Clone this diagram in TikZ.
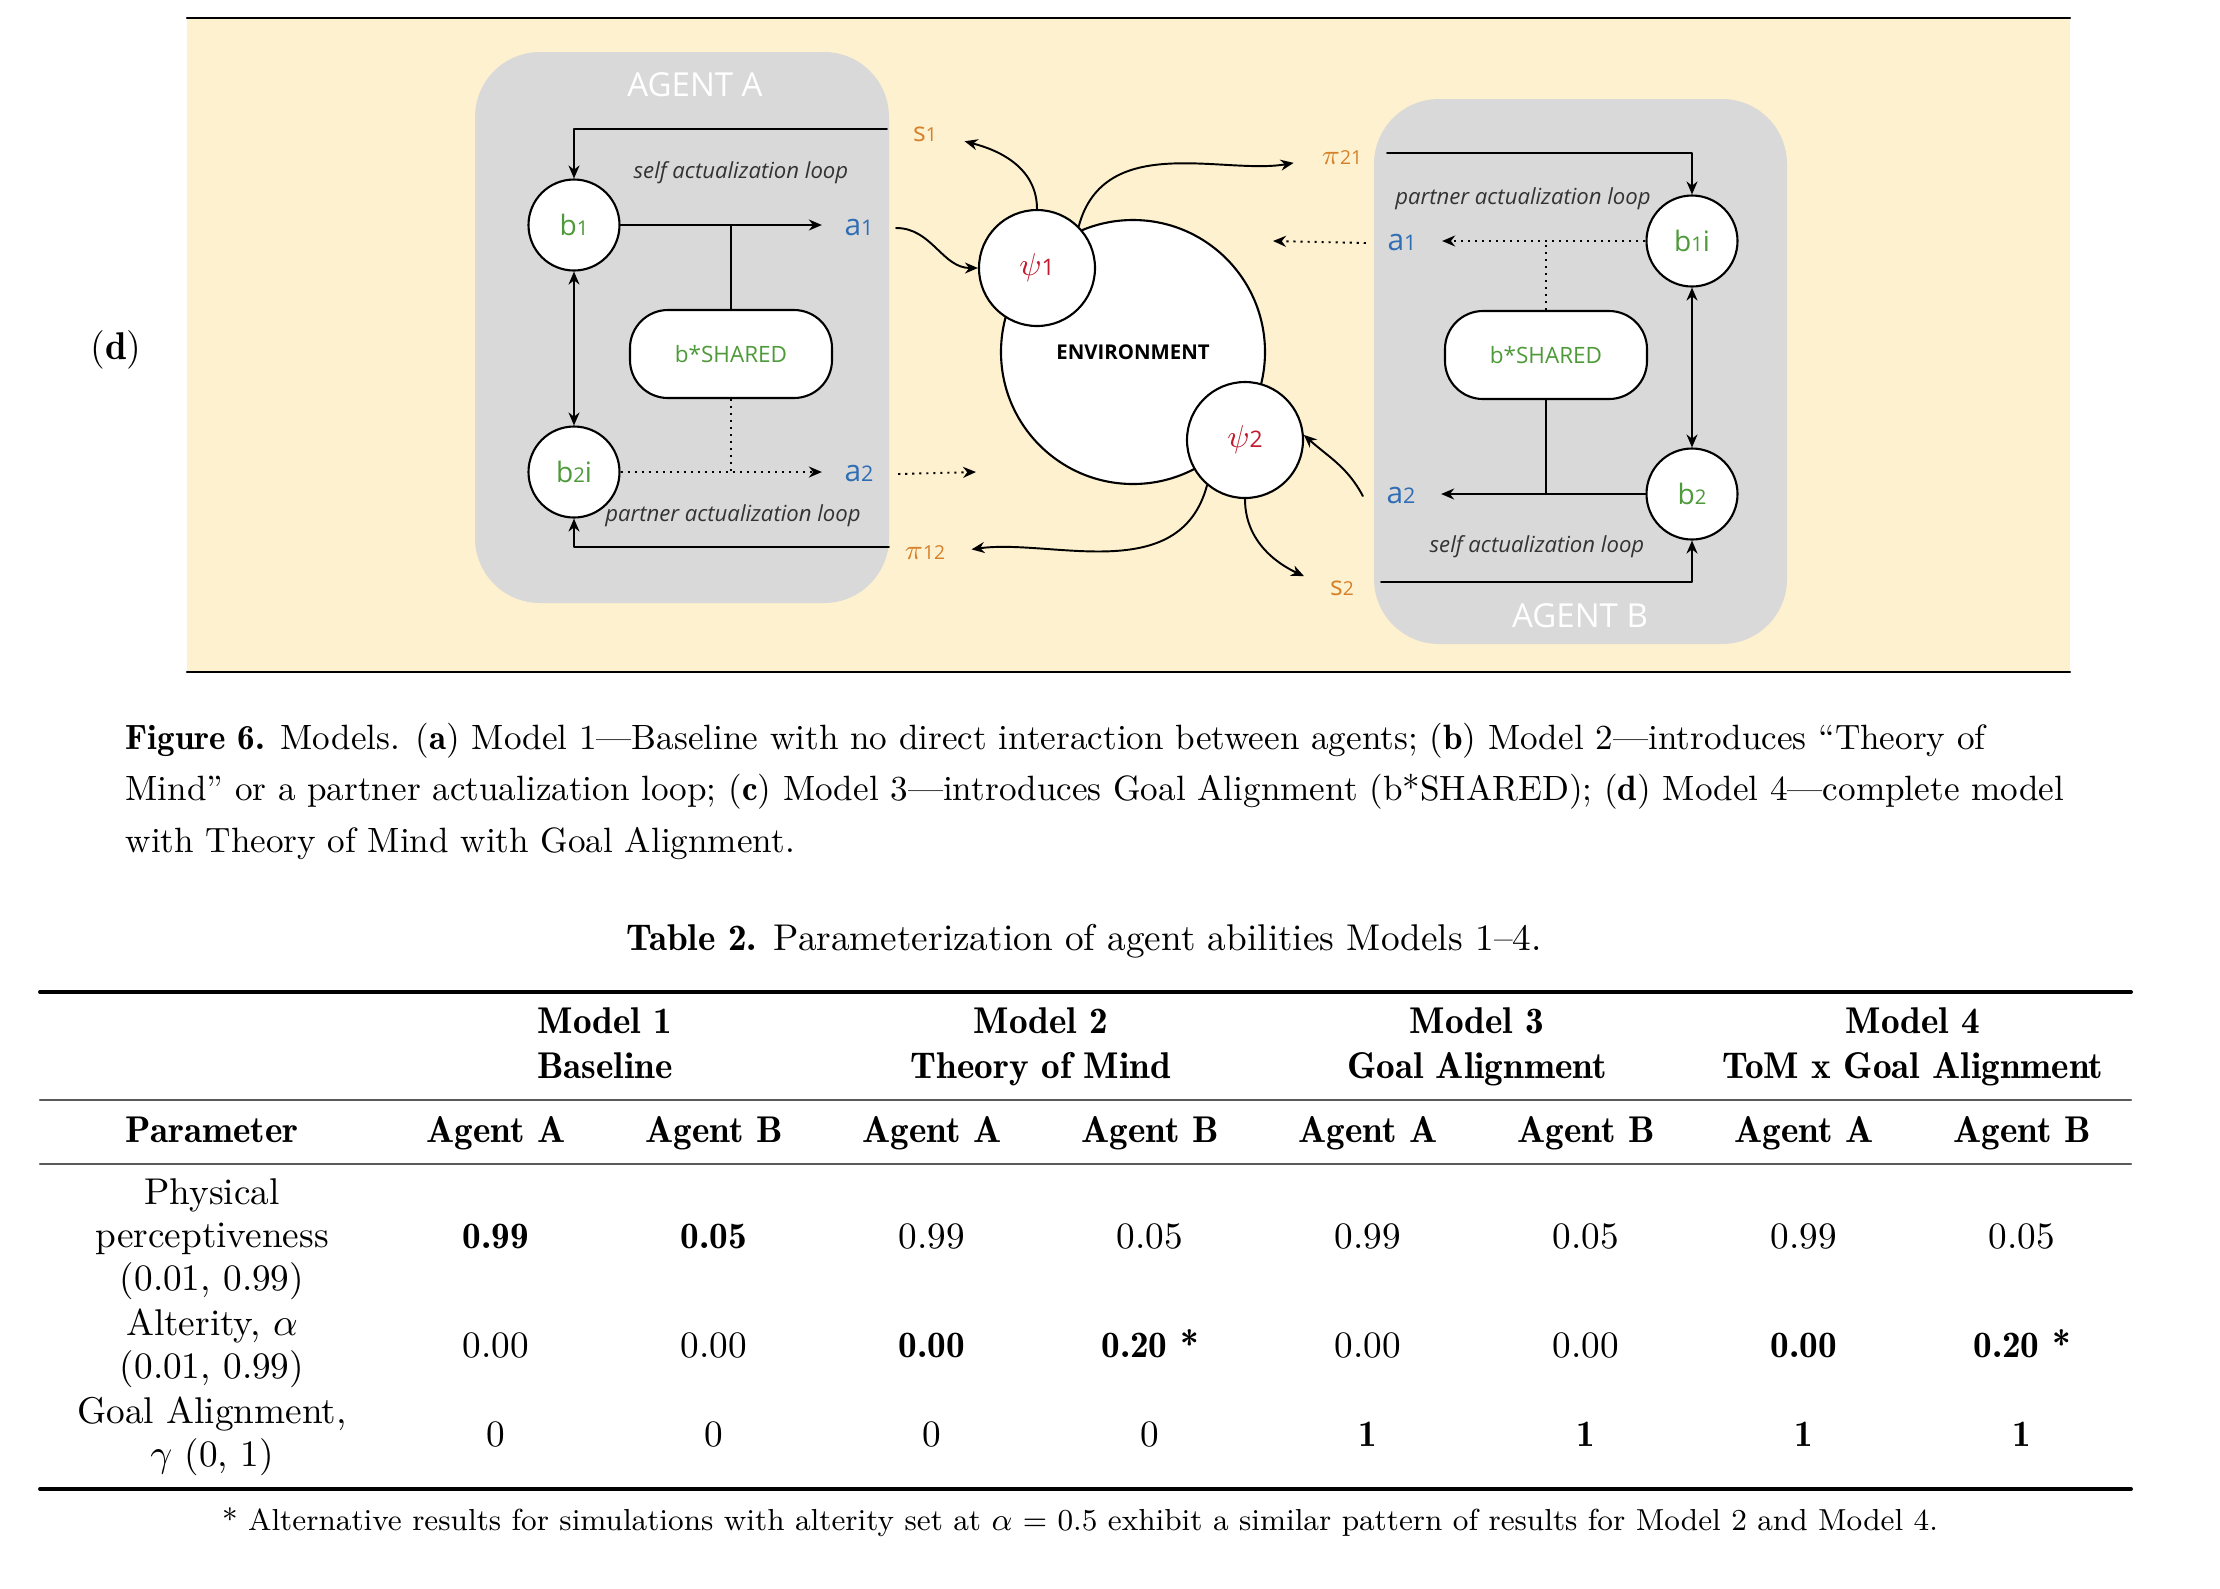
\documentclass[tikz,border=0pt]{standalone}
\usepackage{fontspec}
\newfontfamily\diagfont{Open Sans}
\newfontfamily\demifont{lmromandemi10-regular.otf}
\usetikzlibrary{arrows.meta,positioning}

\definecolor{panelbg}{HTML}{FEF1CF}
\definecolor{agentgray}{HTML}{D9D9D9}
\definecolor{belgreen}{HTML}{4E9A3A}
\definecolor{actblue}{HTML}{2F6DB5}
\definecolor{sigorange}{HTML}{D6812A}
\definecolor{psired}{HTML}{C01B2E}

\newcommand\dg[1]{\scalebox{0.72}{#1}}
\newcommand\bx[1]{{\demifont #1}}

\begin{document}
\begin{tikzpicture}[x=0.1mm, y=-0.1mm, >={Stealth[length=1.3mm,width=1.1mm]},
    line join=round, line cap=round,
    wire/.style={line width=0.55pt},
    dotline/.style={line width=0.55pt, dash pattern=on 0.6pt off 1.4pt, line cap=butt},
    state/.style={circle, draw, line width=0.6pt, fill=white, minimum size=9.1mm, inner sep=0pt,
      text=belgreen, font=\diagfont\fontsize{8}{8}\selectfont},
    shared/.style={draw, line width=0.6pt, fill=white, rounded corners=3.8mm, minimum width=20.2mm,
      minimum height=8.8mm, text=belgreen, font=\diagfont\fontsize{6.4}{7}\selectfont},
    psinode/.style={circle, draw, line width=0.6pt, fill=white, minimum size=11.6mm, inner sep=0pt,
      text=psired, font=\diagfont\fontsize{9}{9}\selectfont},
    act/.style={inner sep=0pt, text=actblue, font=\diagfont\fontsize{8.5}{8.5}\selectfont},
    sig/.style={inner sep=0pt, text=sigorange, font=\diagfont\fontsize{7.6}{7.6}\selectfont},
    looptext/.style={text=black!80, font=\diagfont\itshape\fontsize{6.3}{7}\selectfont},
    agentlabel/.style={text=white, font=\diagfont\fontsize{9.4}{9.4}\selectfont},
    cell/.style={inner sep=0pt, text height=7.4pt, text depth=2.1pt, font=\fontsize{10.6}{12.3}\selectfont},
    headcell/.style={cell, font=\demifont\fontsize{10.6}{12.3}\selectfont},
    paramcell/.style={inner sep=0pt, align=center, font=\fontsize{10.6}{12.3}\selectfont},
    capline/.style={anchor=base west, inner sep=0pt, font=\fontsize{10}{14.5}\selectfont}]
  \useasboundingbox (0,0) rectangle (2220,1588);
  \fill[white] (0,0) rectangle (2220,1588);

  % panel (d)
  \fill[panelbg] (187,18) rectangle (2070,672);
  \draw[line width=0.6pt] (187,18) -- (2070,18);
  \draw[line width=0.6pt] (187,672) -- (2070,672);
  \node[font=\fontsize{11}{13}\selectfont] (panel) at (116,350) {(\bx{d})};

  \fill[agentgray, rounded corners=6.5mm] (475,52) rectangle (889,603);
  \fill[agentgray, rounded corners=6.5mm] (1374,99) rectangle (1787,644);
  \node[agentlabel] (agentA) at (695,85) {AGENT A};
  \node[agentlabel] (agentB) at (1580,616) {AGENT B};

  % agent A
  \node[state] (b1A) at (574,225) {b\dg{1}};
  \node[state] (b2iA) at (574,472) {b\dg{2}i};
  \node[shared] (sharedA) at (731,354) {b*SHARED};
  \node[act] (a1A) at (859,228) {a\dg{1}};
  \node[act] (a2A) at (859,474) {a\dg{2}};
  \node[sig] (s1A) at (925,134) {s\dg{1}};
  \node[sig] (pi12A) at (925,553) {$\pi$\dg{12}};
  \node[looptext] (selfA) at (741,173) {self actualization loop};
  \node[looptext] (partA) at (733,516) {partner actualization loop};

  \draw[wire,->,shorten >=2.2mm] (b1A) -- (b1A -| a1A.west);
  \draw[wire] (sharedA) -- (sharedA |- b1A);
  \draw[dotline] (sharedA) -- (sharedA |- b2iA);
  \draw[dotline,->,shorten >=2.2mm] (b2iA) -- (b2iA -| a2A.west);
  \draw[wire,<->] (b1A) -- (b2iA);
  \coordinate (fbA1) at (887,129);
  \coordinate (fbA2) at (889,547);
  \draw[wire,->] (fbA1) -| (b1A);
  \draw[wire,->] (fbA2) -| (b2iA);

  % agent B
  \node[state] (b1iB) at (1692,241) {b\dg{1}i};
  \node[state] (b2B) at (1692,494) {b\dg{2}};
  \node[shared] (sharedB) at (1546,355) {b*SHARED};
  \node[act] (a1B) at (1402,243) {a\dg{1}};
  \node[act] (a2B) at (1401,496) {a\dg{2}};
  \node[sig] (pi21B) at (1342,158) {$\pi$\dg{21}};
  \node[sig] (s2B) at (1342,588) {s\dg{2}};
  \node[looptext] (partB) at (1523,199) {partner actualization loop};
  \node[looptext] (selfB) at (1537,547) {self actualization loop};

  \draw[dotline,->,shorten >=2.5mm] (b1iB) -- (b1iB -| a1B.east);
  \draw[dotline] (sharedB) -- (sharedB |- b1iB);
  \draw[wire,->,shorten >=2.5mm] (b2B) -- (b2B -| a2B.east);
  \draw[wire] (sharedB) -- (sharedB |- b2B);
  \draw[wire,<->] (b1iB) -- (b2B);
  \coordinate (fbB1) at (1387,153);
  \coordinate (fbB2) at (1381,582);
  \draw[wire,->] (fbB1) -| (b1iB);
  \draw[wire,->] (fbB2) -| (b2B);

  % environment
  \node[circle, draw, line width=0.6pt, fill=white, minimum size=26.4mm, inner sep=0pt,
    font=\diagfont\bfseries\fontsize{5.8}{6}\selectfont] (env) at (1133,352) {ENVIRONMENT};
  \node[psinode] (psi1) at (1037,268) {$\psi$\dg{1}};
  \node[psinode] (psi2) at (1245,440) {$\psi$\dg{2}};

  \coordinate (envL) at (976,472);
  \coordinate (envR) at (1273,241);
  \draw[wire,->] ([xshift=2.2mm]a1A.east) to[out=0,in=180] (psi1.west);
  \draw[dotline,->] ([xshift=2.4mm]a2A.east) -- (envL);
  \draw[dotline,->] ([xshift=-2.1mm]a1B.west) -- (envR);
  \draw[wire,->,shorten >=2.8mm] (psi1.north) to[out=90,in=-15] (s1A.east);
  \draw[wire,->,shorten >=2.8mm] (psi1.45) to[out=75,in=190] (pi21B.west);
  \draw[wire,->,shorten >=2.6mm] (psi2.230) to[out=-105,in=8] (pi12A.east);
  \draw[wire,->,shorten >=2.8mm] (psi2.south) to[out=-90,in=155] (s2B.west);
  \draw[wire,->] ([xshift=-2.3mm]a2B.west) to[out=118,in=-42] (psi2.5);

  % caption
  \node[capline] (cap1) at (125,749) {\bx{Figure 6.} Models. (\bx{a}) Model 1—Baseline with no direct interaction between agents; (\bx{b}) Model 2—introduces “Theory of};
  \node[capline] (cap2) at (125,800) {Mind” or a partner actualization loop; (\bx{c}) Model 3—introduces Goal Alignment (b*SHARED); (\bx{d}) Model 4—complete model};
  \node[capline] (cap3) at (125,852) {with Theory of Mind with Goal Alignment.};

  % table
  \node[anchor=base, inner sep=0pt, font=\fontsize{10.6}{12.3}\selectfont] (tabtitle) at (1084,950)
    {\bx{Table 2.} Parameterization of agent abilities Models 1–4.};
  \draw[line width=1.1pt] (40,992) -- (2131,992);
  \draw[line width=0.6pt, black!65] (40,1100) -- (2131,1100);
  \draw[line width=0.6pt, black!65] (40,1164) -- (2131,1164);
  \draw[line width=1.1pt] (40,1489) -- (2131,1489);

  \foreach \m/\x/\sub in {1/605/Baseline, 2/1041/Theory of Mind, 3/1477/Goal Alignment, 4/1913/ToM x Goal Alignment} {
    \node[headcell] (model\m) at (\x,1024) {Model \m};
    \node[headcell] (sub\m) at (\x,1069) {\sub};
  }
  \node[headcell] (param) at (212,1133) {Parameter};
  \foreach \c/\x/\ag in {1/496/A, 2/714/B, 3/932/A, 4/1150/B, 5/1368/A, 6/1586/B, 7/1804/A, 8/2022/B}
    \node[headcell] (agent\c) at (\x,1133) {Agent \ag};

  \node[paramcell] (perc) at (212,1239) {Physical\\perceptiveness\\(0.01, 0.99)};
  \node[paramcell] (alt) at (212,1348) {Alterity, $\alpha$\\(0.01, 0.99)};
  \node[paramcell] (goal) at (212,1436) {Goal Alignment,\\$\gamma$ (0, 1)};
  \foreach \c/\x/\va/\vb/\vc in {1/496/\bx{0.99}/0.00/0, 2/714/\bx{0.05}/0.00/0,
      3/932/0.99/\bx{0.00}/0, 4/1150/0.05/\bx{0.20 *}/0,
      5/1368/0.99/0.00/\bx{1}, 6/1586/0.05/0.00/\bx{1},
      7/1804/0.99/\bx{0.00}/\bx{1}, 8/2022/0.05/\bx{0.20 *}/\bx{1}} {
    \node[cell] (perc\c) at (\x,1239) {\va};
    \node[cell] (alt\c) at (\x,1348) {\vb};
    \node[cell] (goal\c) at (\x,1437) {\vc};
  }

  \node[anchor=base, inner sep=0pt, font=\fontsize{8.65}{11}\selectfont] (tabnote) at (1080,1530)
    {* Alternative results for simulations with alterity set at $\alpha$ = 0.5 exhibit a similar pattern of results for Model 2 and Model 4.};
\end{tikzpicture}
\end{document}
